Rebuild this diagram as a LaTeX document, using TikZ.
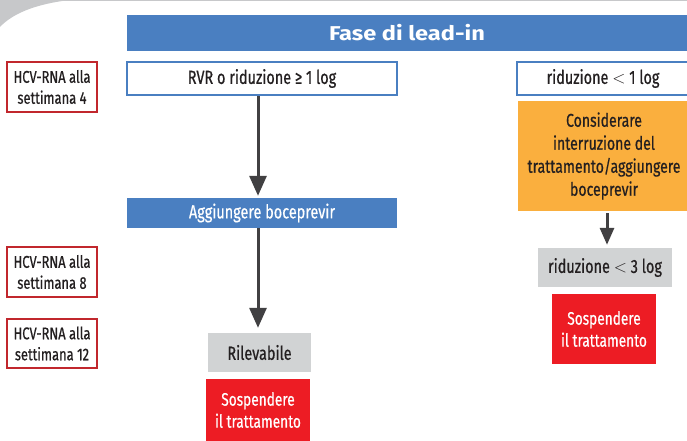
\documentclass[tikz,border=0pt]{standalone}
\usepackage{fontspec}
\setmainfont{Fira Sans}[FakeStretch=0.76, FakeBold=0.6]
\newfontfamily\headfont{Fira Sans}[FakeStretch=1.18]
\usetikzlibrary{arrows.meta}
\definecolor{hblue}{HTML}{4A7FC1}
\definecolor{hred}{HTML}{C1272D}
\definecolor{fred}{HTML}{ED1C24}
\definecolor{forange}{HTML}{FAAF3E}
\definecolor{fgray}{HTML}{D1D3D4}
\definecolor{adark}{HTML}{414042}
\definecolor{tdark}{HTML}{231F20}
\definecolor{decgray}{HTML}{C7C8CA}
\tikzset{
  base/.style={inner sep=0pt, align=center, text=tdark, font=\fontsize{19}{23}\selectfont},
  weekbox/.style={base, draw=hred, line width=1.6pt, fill=white, minimum width=90pt, minimum height=50pt, font=\fontsize{17}{21}\selectfont},
  outbox/.style={base, draw=hblue, line width=1.6pt, fill=white, minimum height=33pt},
  bluebar/.style={base, fill=hblue, text=white},
  graybox/.style={base, fill=fgray},
  redbox/.style={base, fill=fred, text=white, minimum width=104pt, font=\fontsize{18}{22}\selectfont},
  orangebox/.style={base, fill=forange, font=\fontsize{18.5}{23}\selectfont},
  flow/.style={draw=adark, line width=3pt, -{Triangle[length=20pt,width=17pt]}},
  flowsmall/.style={draw=adark, line width=3pt, -{Triangle[length=17pt,width=14pt]}}
}
\begin{document}
\begin{tikzpicture}[x=1pt,y=-1pt]
\useasboundingbox (0,0) rectangle (687,441);
% decoration top-left
\fill[decgray] (0,0) -- (70,0) .. controls (35,4) and (12,14) .. (0,27) -- cycle;
\fill[decgray] (60,0) rectangle (687,1.5);
% header
\node[bluebar, minimum width=560pt, minimum height=36pt, font=\headfont\bfseries\fontsize{20}{24}\selectfont] (head) at (407,33) {Fase di lead-in};
% week boxes
\node[weekbox] (w4) at (52,87) {HCV-RNA alla\\settimana 4};
\node[weekbox] (w8) at (52,272) {HCV-RNA alla\\settimana 8};
\node[weekbox, minimum height=49pt] (w12) at (52,343.5) {HCV-RNA alla\\settimana 12};
% left column
\node[outbox, minimum width=270pt] (rvr) at (262,78.5) {RVR o riduzione ≥ 1 log};
\node[bluebar, minimum width=270pt, minimum height=30pt] (agg) at (262,213) {Aggiungere boceprevir};
\node[graybox, minimum width=103pt, minimum height=39pt] (ril) at (259.5,352.5) {Rilevabile};
\node[redbox, minimum height=62pt] (sospL) at (258,410) {Sospendere\\il trattamento};
% right column
\node[outbox, minimum width=172pt] (rid1) at (603,78.5) {riduzione $<$ 1 log};
\node[orangebox, minimum width=172pt, minimum height=110pt] (cons) at (604,156) {Considerare\\interruzione del\\trattamento/aggiungere\\boceprevir};
\node[graybox, minimum width=134pt, minimum height=39pt] (rid3) at (605,267.5) {riduzione $<$ 3 log};
\node[redbox, minimum height=70pt] (sospR) at (604,329) {Sospendere\\il trattamento};
% arrows
\draw[flow, shorten >=2pt] (rvr.south -| 258,0) -- (agg.north -| 258,0);
\draw[flow, shorten >=5pt] (agg.south -| 258,0) -- (ril.north -| 258,0);
\draw[flowsmall, shorten <=2pt, shorten >=3pt] (cons.south -| 607,0) -- (rid3.north -| 607,0);
\end{tikzpicture}
\end{document}
